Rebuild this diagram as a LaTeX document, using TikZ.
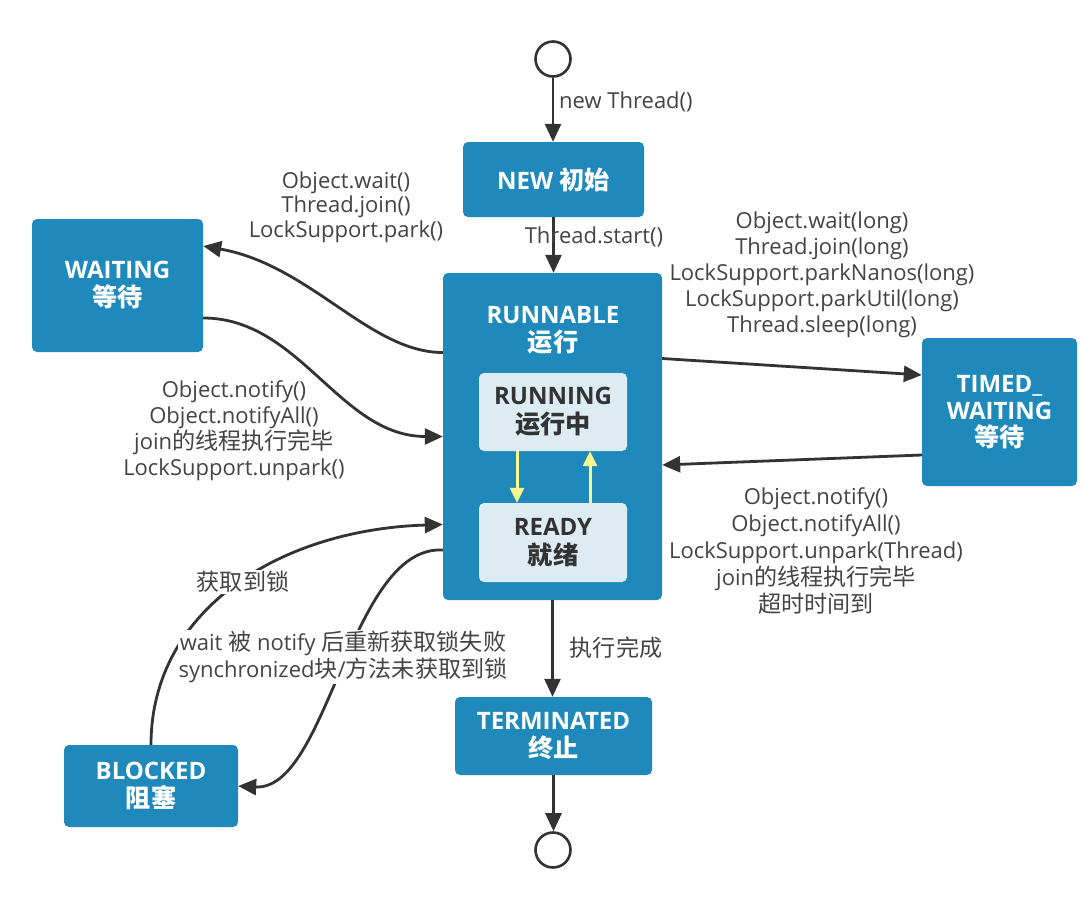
\documentclass[tikz,border=0pt]{standalone}
\usepackage{fontspec}
\setmainfont{Open Sans}
\newfontfamily\cjk{Noto Sans CJK SC}[Scale=1.05]
\usetikzlibrary{arrows.meta}
\definecolor{boxblue}{RGB}{30,137,186}
\definecolor{innerbg}{RGB}{221,235,242}
\definecolor{arrowc}{RGB}{51,51,51}
\definecolor{labelc}{RGB}{68,68,68}
\definecolor{yel}{RGB}{248,248,140}
\begin{document}
\begin{tikzpicture}[x=1pt,y=-1pt,
 state/.style={fill=boxblue, rounded corners=5pt, text=white, font=\bfseries\fontsize{24}{28}\selectfont, align=center, inner sep=0pt},
 innerstate/.style={fill=innerbg, rounded corners=5pt, text=arrowc, font=\bfseries\fontsize{24}{29}\selectfont, align=center, inner sep=0pt, minimum width=148pt},
 termc/.style={circle, draw=arrowc, line width=2.6pt, minimum size=35pt, inner sep=0pt},
 conn/.style={draw=arrowc, line width=2.8pt, -{Triangle[length=18pt,width=16pt]}},
 yarr/.style={draw=yel, line width=3pt, -{Triangle[length=15pt,width=14pt]}},
 lbl/.style={text=labelc, font=\fontsize{22}{25}\selectfont, align=center, inner sep=1pt},
]
\useasboundingbox[fill=white] (0,0) rectangle (1090,898);

% nodes
\node[termc] (start) at (553,59) {};
\node[state, minimum width=181pt, minimum height=75pt] (new) at (553.5,179.5) {NEW {\cjk 初始}};
\node[state, minimum width=219pt, minimum height=327pt] (runnable) at (552.5,436.5) {};
\node[state, fill=none] (rtitle) at (553,330) {RUNNABLE\\{\cjk 运行}};
\node[innerstate, minimum height=78pt] (running) at (553,412) {RUNNING\\{\cjk 运行中}};
\node[innerstate, minimum height=79pt] (ready) at (553,542.5) {READY\\{\cjk 就绪}};
\node[state, minimum width=171pt, minimum height=133pt] (waiting) at (117.5,285.5) {WAITING\\{\cjk 等待}};
\node[state, minimum width=155pt, minimum height=148pt, font=\bfseries\fontsize{24}{27}\selectfont] (timed) at (999.5,412) {TIMED\_\\WAITING\\{\cjk 等待}};
\node[state, minimum width=174pt, minimum height=82pt] (blocked) at (151,786) {BLOCKED\\{\cjk 阻塞}};
\node[state, minimum width=197pt, minimum height=78pt] (terminated) at (553.5,736) {TERMINATED\\{\cjk 终止}};
\node[termc] (end) at (553,850) {};

% connectors
\draw[conn] (start.south) -- (start.south |- new.north);
\draw[conn] (new.south) -- (new.south |- runnable.north);
\draw[conn] ([yshift=78pt]runnable.east) -- ([yshift=37pt]timed.west);
\draw[conn] ([yshift=-43pt]timed.west) -- ([yshift=-28.5pt]runnable.east);
\draw[conn] ([yshift=84pt]runnable.west) .. controls +(-73,0) and +(107,19) .. ([yshift=39.5pt]waiting.east);
\draw[conn] ([yshift=-32.5pt]waiting.east) .. controls +(97,0) and +(-103,0) .. (runnable.west);
\draw[conn] (blocked.north) .. controls +(0,-135) and +(-163,5) .. ([yshift=-88pt]runnable.west);
\draw[conn] ([yshift=-113.5pt]runnable.west) .. controls +(-93,-5) and +(90,5) .. (blocked.east);
\draw[conn] (runnable.south) -- (runnable.south |- terminated.north);
\draw[conn] (terminated.south) -- (terminated.south |- end.north);
\draw[yarr] ([xshift=-36pt]running.south) -- ([xshift=-36pt]running.south |- ready.north);
\draw[yarr] ([xshift=37pt]ready.north) -- ([xshift=37pt]ready.north |- running.south);

% labels
\node[lbl, anchor=west] (lnew) at (558,102) {new Thread()};
\node[lbl] (lstart) at (594,237) {Thread.start()};
\node[lbl, font=\fontsize{22}{24.5}\selectfont] (lwait) at (346,207) {Object.wait()\\Thread.join()\\LockSupport.park()};
\node[lbl, font=\fontsize{22}{26}\selectfont] (lnotify) at (234,431) {Object.notify()\\Object.notifyAll()\\join{\cjk 的线程执行完毕}\\LockSupport.unpark()};
\node[lbl, font=\fontsize{22}{26}\selectfont] (ltimed) at (822,274.5) {Object.wait(long)\\Thread.join(long)\\LockSupport.parkNanos(long)\\LockSupport.parkUtil(long)\\Thread.sleep(long)};
\node[lbl, font=\fontsize{22}{27}\selectfont] (ltimedback) at (816,551.5) {Object.notify()\\Object.notifyAll()\\LockSupport.unpark(Thread)\\join{\cjk 的线程执行完毕}\\{\cjk 超时时间到}};
\node[lbl, fill=white] (llock) at (243,582) {\cjk 获取到锁};
\node[lbl, fill=white, font=\fontsize{22}{27}\selectfont] (lblock) at (343,657) {wait {\cjk 被} notify {\cjk 后重新获取锁失败}\\synchronized{\cjk 块}/{\cjk 方法未获取到锁}};
\node[lbl] (lterm) at (616,648) {\cjk 执行完成};
\end{tikzpicture}
\end{document}
